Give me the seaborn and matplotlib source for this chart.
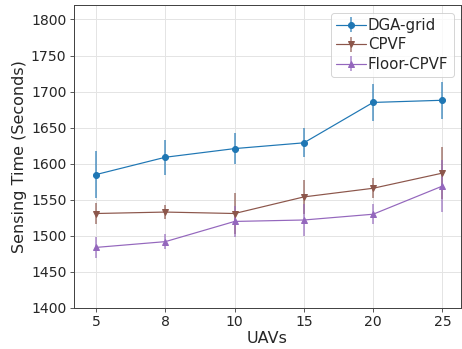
import numpy as np
import pandas as pd
import matplotlib
matplotlib.use("Agg")
import matplotlib.pyplot as plt
import seaborn as sns

uavs = ["5", "8", "10", "15", "20", "25"]

dga_grid = [1585, 1609, 1621, 1629, 1685, 1688]
dga_grid_err = [32, 24, 21, 20, 26, 26]

cpvf = [1531, 1533, 1531, 1554, 1566, 1587]
cpvf_err = [15, 10, 28, 23, 14, 36]

floor_cpvf = [1484, 1492, 1520, 1522, 1530, 1569]
floor_cpvf_err = [15, 10, 21, 22, 14, 36]

sns.set_style("ticks")
plt.rcParams['font.family'] = ['DejaVu Sans']

palette = sns.color_palette("tab10")
series = [
    ("DGA-grid", dga_grid, dga_grid_err, palette[0], "o"),
    ("CPVF", cpvf, cpvf_err, palette[5], "v"),
    ("Floor-CPVF", floor_cpvf, floor_cpvf_err, palette[4], "^"),
]

fig = plt.figure(figsize=(462 / 72, 349 / 72), dpi=72)
ax = fig.add_axes([0.160, 0.1175, 0.838, 0.868])

x = np.arange(len(uavs))
for name, vals, errs, color, marker in series:
    cont = ax.errorbar(x, vals, yerr=errs, color=color, marker=marker,
                       markersize=6, linewidth=1.2, elinewidth=2,
                       label=name, zorder=3)
    for bar in cont[2]:
        bar.set_alpha(0.6)

ax.set_xticks(x)
ax.set_xticklabels(uavs)
ax.set_xlim(-0.32, 5.27)
ax.set_ylim(1400, 1820)
ax.set_yticks(range(1400, 1801, 50))
ax.grid(True, color="#e4e4e4", linewidth=1)
ax.set_axisbelow(True)
ax.tick_params(labelsize=14, length=4, color="#333333")
for sp in ax.spines.values():
    sp.set_color("#444444")
    sp.set_linewidth(1)

ax.set_xlabel("UAVs", fontsize=16, labelpad=2)
ax.set_ylabel("Sensing Time (Seconds)", fontsize=16, labelpad=4)
ax.legend(loc="upper right", fontsize=15, handlelength=2, handletextpad=0.1,
          borderpad=0.35, labelspacing=0.3, frameon=True)

fig.savefig("out.png", dpi=72)
